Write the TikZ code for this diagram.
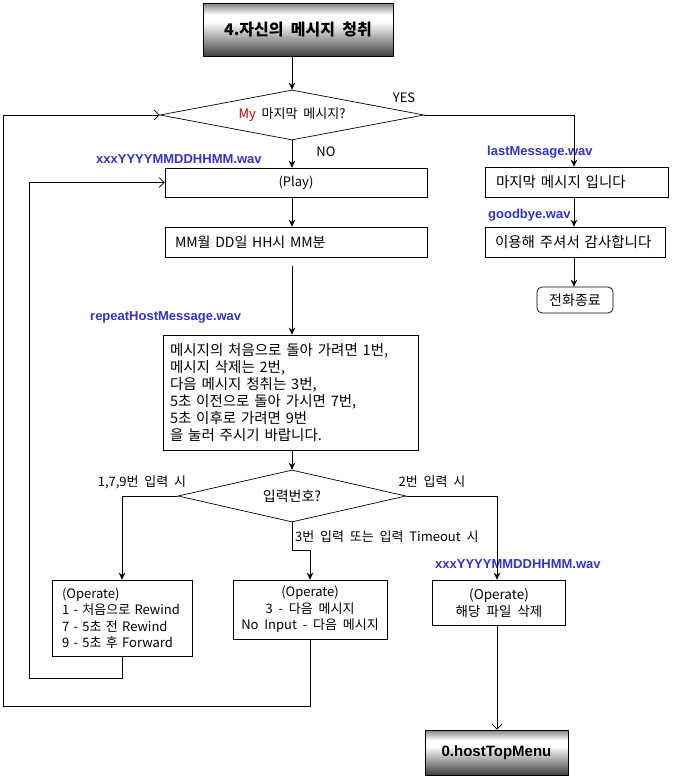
\documentclass[tikz,border=0pt]{standalone}
\usepackage{fontspec}
\setmainfont{Noto Sans CJK KR}[WordSpace=2]
\newfontfamily\lat{Liberation Sans}
\usetikzlibrary{shapes.geometric,arrows.meta}
\definecolor{wavblue}{RGB}{51,51,204}
\definecolor{myred}{RGB}{204,0,0}
\pgfdeclareverticalshading{btnshade}{100bp}{color(0bp)=(black!75); color(25bp)=(black!75); color(40bp)=(black!40); color(57bp)=(white); color(64bp)=(white); color(75bp)=(black!50); color(100bp)=(black!50)}
\begin{document}
\begin{tikzpicture}[x=1pt,y=-1pt,
  every node/.style={font=\fontsize{13}{16.5}\selectfont},
  kr/.style={font=\fontsize{14.5}{17}\selectfont},
  box/.style={draw, line width=0.7pt, inner sep=0pt, align=center},
  lbox/.style={box, align=left},
  dia/.style={draw, line width=0.7pt, diamond, inner sep=0pt},
  wav/.style={text=wavblue, font=\lat\bfseries\fontsize{13}{15}\selectfont, inner sep=0pt, anchor=west},
  lbl/.style={inner sep=0pt},
  titlebox/.style={draw, line width=0.7pt, shading=btnshade, inner sep=0pt},
  arr/.style={line width=0.7pt, -{Stealth[length=7pt,width=6.5pt]}},
  oarr/.style={line width=0.7pt, -{Straight Barb[length=5pt,width=10pt]}},
  ln/.style={line width=0.7pt}
]
\useasboundingbox (0,0) rectangle (690,777);
\coordinate (cc) at (292,0);
\coordinate (rc) at (574,0);
\coordinate (c3) at (497,0);

% title
\node[titlebox, minimum width=190pt, minimum height=53pt, font=\bfseries\fontsize{16}{18}\selectfont] (top) at (298,29.5) {4.자신의 메시지 청취};

% decision 1
\node[dia, aspect=5.28, minimum width=264pt, minimum height=50pt] (d1) at (292,115) {\textcolor{myred}{My} 마지막 메시지?};
\node[lbl] (yes) at (404,98) {YES};
\node[lbl] (no) at (326,152) {NO};

% right column
\node[wav] (wlast) at (487,152) {lastMessage.wav};
\node[lbox, kr, text width=161pt, inner xsep=11pt, minimum height=30pt] (l1) at (576.5,182) {\mbox{마지막 메시지 입니다}};
\node[wav] (wbye) at (488,215) {goodbye.wav};
\node[lbox, kr, text width=160pt, inner xsep=10pt, minimum height=30pt] (l2) at (575,242) {\mbox{이용해 주셔서 감사합니다}};
\node[box, rounded corners=5pt, minimum width=76pt, minimum height=26pt, font=\fontsize{14}{16}\selectfont] (endc) at (575,300) {전화종료};

% center column
\node[wav] (wxxx1) at (96,159) {xxxYYYYMMDDHHMM.wav};
\node[box, minimum width=262pt, minimum height=29pt] (play) at (296,182.5) {(Play)};
\node[lbox, font=\fontsize{14}{16}\selectfont, text width=242pt, inner xsep=10pt, minimum height=30pt] (mm) at (296,242) {MM월 DD일 HH시 MM분};
\node[wav] (wrep) at (90,317) {repeatHostMessage.wav};
\node[lbox, kr, text width=241pt, inner xsep=7pt, minimum height=115pt] (rep) at (290.5,392.5) {\mbox{메시지의 처음으로 돌아 가려면 1번,}\\
메시지 삭제는 2번,\\
다음 메시지 청취는 3번,\\
\mbox{5초 이전으로 돌아 가시면 7번,}\\
5초 이후로 가려면 9번\\
을 눌러 주시기 바랍니다.};

% decision 2
\node[dia, aspect=4.4, minimum width=228pt, minimum height=52pt, font=\fontsize{14}{16}\selectfont] (d2) at (292,496) {입력번호?};
\node[lbl] (l179) at (142,482) {1,7,9번 입력 시};
\node[lbl] (l2in) at (432,482) {2번 입력 시};
\node[lbl, anchor=west] (l3in) at (295,537) {3번 입력 또는 입력 Timeout 시};
\node[wav] (wxxx2) at (435,564) {xxxYYYYMMDDHHMM.wav};
\coordinate (s2) at (292,550);

% operate boxes
\node[lbox, text width=120pt, inner xsep=10pt, minimum height=76pt] (box1) at (122,618) {(Operate)\\ \mbox{1 - 처음으로 Rewind}\\ \mbox{7 - 5초 전 Rewind}\\ \mbox{9 - 5초 후 Forward}};
\node[box, minimum width=154pt, minimum height=59pt] (box2) at (310,609.5) {(Operate)\\ 3 - 다음 메시지\\ No Input - 다음 메시지};
\node[box, minimum width=133pt, minimum height=45pt, font=\fontsize{13.5}{17}\selectfont] (box3) at (499,602.5) {(Operate)\\ 해당 파일 삭제};

% final
\node[titlebox, minimum width=143pt, minimum height=45pt, font=\lat\bfseries\fontsize{15}{17}\selectfont] (host) at (496.5,752.5) {0.hostTopMenu};

% loop coordinates
\coordinate (lp1) at (29,678);
\coordinate (lp2) at (3,706);

% connectors
\draw[arr] (top.south -| cc) -- (d1.north);
\draw[arr] (d1.east) -| (l1.north -| rc);
\draw[arr] (l1.south -| rc) -- (l2.north -| rc);
\draw[arr] (l2.south -| rc) -- (endc.north -| rc);
\draw[arr] (d1.south) -- (play.north -| cc);
\draw[arr] (play.south -| cc) -- (mm.north -| cc);
\draw[arr, shorten <=9pt] (mm.south -| cc) -- (rep.north -| cc);
\draw[arr] (rep.south -| cc) -- (d2.north);
\draw[arr] (d2.west) -| (box1.north);
\draw[arr] (d2.east) -| (box3.north -| c3);
\draw[arr] (d2.south) -- (s2) -| (box2.north);
\draw[oarr] (box1.south) |- (lp1) |- (play.west);
\draw[oarr] (box2.south) |- (lp2) |- (d1.west);
\draw[oarr] (box3.south -| c3) -- (host.north -| c3);
\end{tikzpicture}
\end{document}
